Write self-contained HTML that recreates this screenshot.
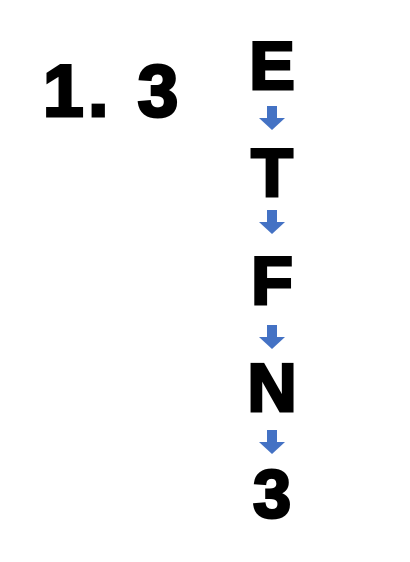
<!DOCTYPE html>
<html><head><meta charset="utf-8"><style>
html,body{margin:0;padding:0;background:#fff;width:410px;height:562px;overflow:hidden}
text{font-family:"Liberation Sans",Arial,sans-serif;font-weight:bold;fill:#000;stroke:#000;stroke-width:3;stroke-linejoin:miter}
</style></head><body>
<svg width="410" height="562">
<text x="43" y="116" font-size="73" style="letter-spacing:4.5px">1. 3</text>
<g text-anchor="middle" font-size="68">
<text x="272" y="89">E</text>
<text x="272" y="196">T</text>
<text x="272" y="304">F</text>
<text x="272" y="411">N</text>
<text x="272" y="517">3</text>
</g>
<g fill="#4472C4">
<polygon points="267,106 277,106 277,118 285,118 272,130 259,118 267,118"/>
<polygon points="267,210 277,210 277,222 285,222 272,234 259,222 267,222"/>
<polygon points="267,325 277,325 277,337 285,337 272,349 259,337 267,337"/>
<polygon points="267,430 277,430 277,442 285,442 272,454 259,442 267,442"/>
</g>
</svg>
</body></html>
